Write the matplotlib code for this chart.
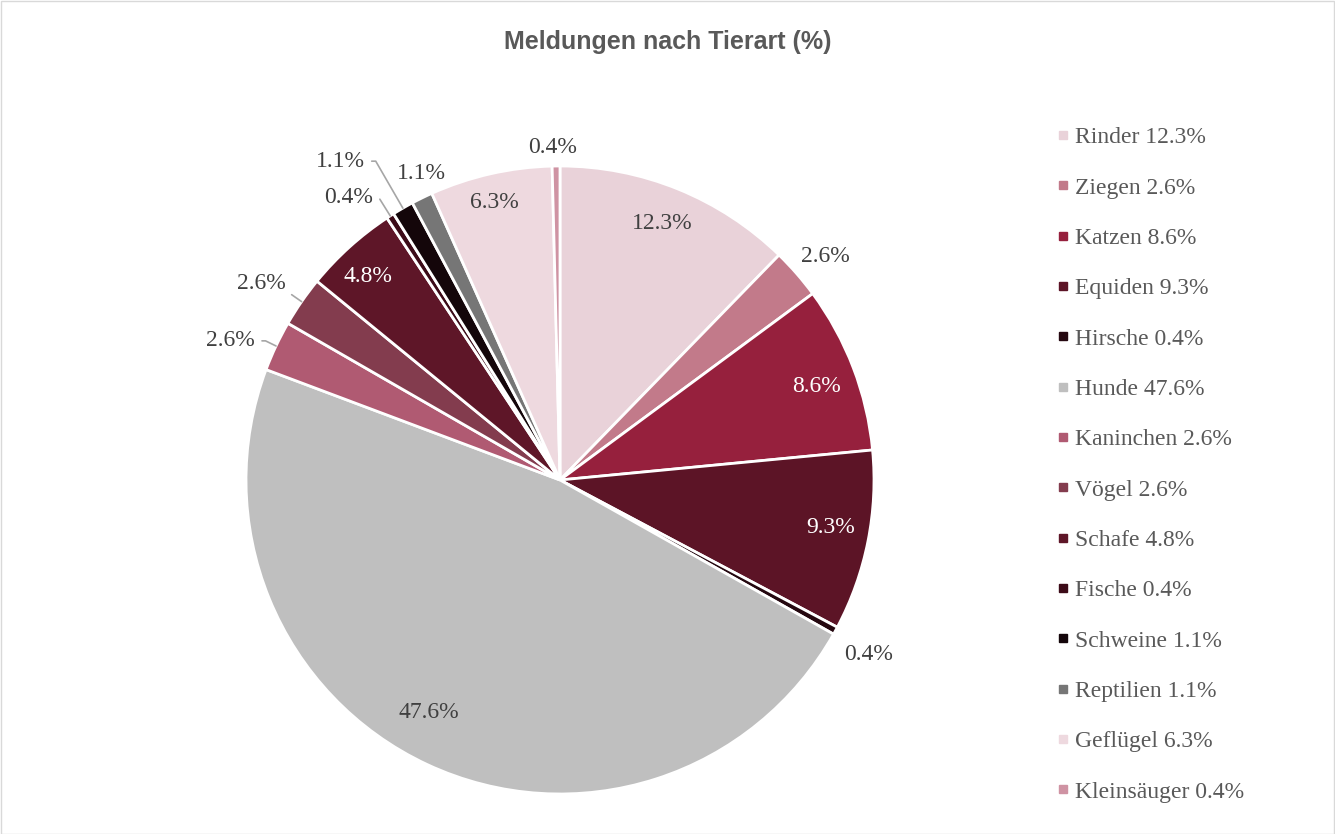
import numpy as np
import matplotlib
matplotlib.use("Agg")
import matplotlib.pyplot as plt
from matplotlib.lines import Line2D
from matplotlib.patches import Rectangle

categories = ["Rinder", "Ziegen", "Katzen", "Equiden", "Hirsche", "Hunde", "Kaninchen",
              "Vögel", "Schafe", "Fische", "Schweine", "Reptilien", "Geflügel", "Kleinsäuger"]
values = [12.3, 2.6, 8.6, 9.3, 0.4, 47.6, 2.6, 2.6, 4.8, 0.4, 1.1, 1.1, 6.3, 0.4]
colors = ["#E9D2D9", "#C27A8A", "#96203D", "#5C1426", "#250810", "#BFBFBF", "#B05A72",
          "#833C4E", "#5E1628", "#3C0B18", "#14060A", "#767676", "#EED9DF", "#CF93A3"]

# label placement: (radius factor, angle offset in degrees, text colour, leader line?)
label_r = [0.88, 1.105, 0.87, 0.875, 1.13, 0.85, 1.15, 1.15, 0.89, 1.13, 1.24, 1.07, 0.91, 1.06]
label_da = [0.5, -1.0, -1.0, 1.3, -0.8, -4.5, 2.6, 1.6, 1.2, 4.6, 5.0, -1.7, 0.6, 0.6]
label_col = ["#404040", "#404040", "white", "white", "#404040", "#404040", "#404040",
             "#404040", "white", "#404040", "#404040", "#404040", "#404040", "#404040"]
leader = [False, False, False, False, False, False, True, True, False, True, True,
          False, False, False]

W, H = 1335, 834
fig = plt.figure(figsize=(W / 100, H / 100), dpi=100)
fig.patches.append(Rectangle((0.5 / W, 0.5 / H), 1 - 1.5 / W, 1 - 1.5 / H,
                             transform=fig.transFigure, fill=False,
                             edgecolor="#D9D9D9", linewidth=1))

cx, cy, R = 560, 480, 314
ax = fig.add_axes([(cx - R) / W, (H - cy - R) / H, 2 * R / W, 2 * R / H])

wedges, _ = ax.pie(values, colors=colors, startangle=90, counterclock=False, radius=1,
                   wedgeprops=dict(edgecolor="white", linewidth=2.0))
ax.set_xlim(-1, 1)
ax.set_ylim(-1, 1)
ax.set_aspect("equal")
ax.axis("off")

serif = "Liberation Serif"
fs = 17
for w, v, r, da, c, ld in zip(wedges, values, label_r, label_da, label_col, leader):
    mid = 0.5 * (w.theta1 + w.theta2)
    ang = np.deg2rad(mid + da)
    tx, ty = r * np.cos(ang), r * np.sin(ang)
    txt = f"{v:.1f}%"
    if ld:
        m = np.deg2rad(mid)
        ex, ey = 1.0 * np.cos(m), 1.0 * np.sin(m)
        ax.annotate(txt, xy=(ex, ey), xytext=(tx + 0.09, ty), ha="right", va="center",
                    fontsize=fs, family=serif, color=c, annotation_clip=False,
                    arrowprops=dict(arrowstyle="-", color="#A6A6A6", lw=1.2,
                                    shrinkA=3, shrinkB=0,
                                    connectionstyle="angle,angleA=0,angleB=%d" % (mid % 180)))
    else:
        ax.text(tx, ty, txt, ha="center", va="center", fontsize=fs, family=serif, color=c,
                clip_on=False)

fig.text(0.5, 1 - 42 / H, "Meldungen nach Tierart (%)", ha="center", va="center",
         fontsize=18, fontweight="bold", family="Liberation Sans", color="#595959")

handles = [Line2D([], [], marker="s", linestyle="none", markersize=6,
                  markerfacecolor=c, markeredgecolor=c) for c in colors]
labels = [f"{n} {v:.1f}%" for n, v in zip(categories, values)]
leg = fig.legend(handles, labels, loc="upper left", bbox_to_anchor=(1045 / W, 1 - 115 / H),
                 frameon=False, prop=dict(family=serif, size=fs), labelcolor="#595959",
                 handlelength=0.5, handletextpad=0.25, labelspacing=1.22, borderpad=0)

fig.savefig("out.png", dpi=100, facecolor="white")
